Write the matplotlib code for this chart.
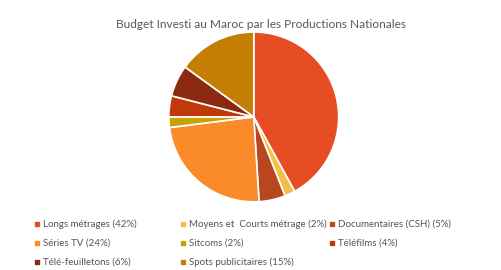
import matplotlib.pyplot as plt
from matplotlib.lines import Line2D

labels = ['Longs métrages', 'Moyens et  Courts métrage', 'Documentaires (CSH)',
          'Séries TV', 'Sitcoms', 'Téléfilms', 'Télé-feuilletons', 'Spots publicitaires']
shares = [42, 2, 5, 24, 2, 4, 6, 15]
colors = ['#E64D22', '#F5BE45', '#B8461F', '#FA8A2A', '#C9A106', '#C0390A', '#8B2A10', '#C47E03']

plt.rcParams['font.family'] = ['Lato', 'DejaVu Sans']

fig = plt.figure(figsize=(5.01, 2.70), dpi=100)
ax = fig.add_axes([0.337, 0.252, 0.339, 0.63])
ax.pie(shares, colors=colors, startangle=90, counterclock=False,
       wedgeprops=dict(edgecolor='white', linewidth=1.2))
ax.set_xlim(-1, 1)
ax.set_ylim(-1, 1)
ax.set_aspect('equal')

fig.text(0.521, 0.91, 'Budget Investi au Maroc par les Productions Nationales',
         ha='center', va='center', fontsize=8.6, color='#595959')

# legend laid out row by row in three equal-width columns, like the original
col_x = [37, 183, 332]
row_y = [224, 243, 262]
for i, (lab, val, c) in enumerate(zip(labels, shares, colors)):
    r, k = divmod(i, 3)
    x = col_x[k] / 501
    y = 1 - row_y[r] / 270
    fig.add_artist(Line2D([x], [y], marker='s', markersize=3, color=c,
                          linestyle='none', transform=fig.transFigure))
    fig.text(x + 6 / 501, y, '{} ({}%)'.format(lab, val), ha='left', va='center',
             fontsize=7, color='#555555')

fig.savefig('out.png', dpi=100)
